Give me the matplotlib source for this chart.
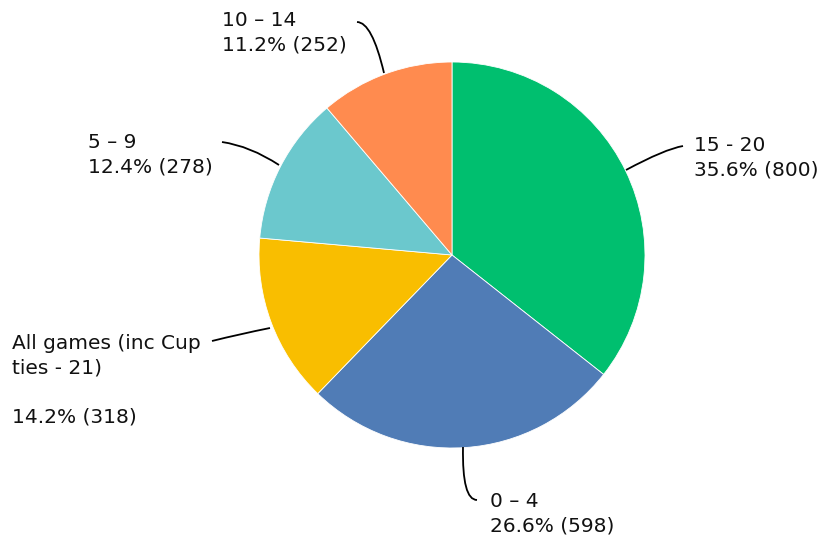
import matplotlib

matplotlib.use("Agg")
import matplotlib.pyplot as plt
from matplotlib.path import Path
from matplotlib.patches import PathPatch

# data
categories = ["15 - 20", "0 \u2013 4", "All games (inc Cup\nties - 21)\n", "5 \u2013 9", "10 \u2013 14"]
counts = [800, 598, 318, 278, 252]
percents = [35.6, 26.6, 14.2, 12.4, 11.2]
colors = ["#00BF6F", "#507CB6", "#F9BE00", "#6BC8CD", "#FF8B4F"]

W, H = 824, 543
CX, CY, R = 452, 255, 193


def fy(py):
    # pixel row -> data y (origin bottom-left)
    return H - py


fig = plt.figure(figsize=(W / 100, H / 100), dpi=100)
ax = fig.add_axes([0, 0, 1, 1])

ax.pie(
    counts,
    colors=colors,
    startangle=90,
    counterclock=False,
    center=(CX, fy(CY)),
    radius=R,
    wedgeprops=dict(edgecolor="white", linewidth=0.6),
)
ax.set_xlim(0, W)
ax.set_ylim(0, H)
ax.set_aspect("equal")
ax.axis("off")

# label block: left x, block centre y (pixels)
label_pos = [(694, 158), (490, 514), (12, 380), (88, 155), (222, 33)]
# leader lines: start on pie, control, end near label (pixels)
leaders = [
    [(626, 170), (665, 149), (683, 146)],
    [(463, 447), (462, 500), (477, 500)],
    [(270, 328), (240, 334), (212, 341)],
    [(279, 165), (250, 146), (222, 142)],
    [(384, 73), (372, 22), (357, 22)],
]

for cat, n, pct, (lx, ly), pts in zip(categories, counts, percents, label_pos, leaders):
    ax.text(
        lx, fy(ly), f"{cat}\n{pct:.1f}% ({n})",
        ha="left", va="center", fontsize=14.5, color="#111111",
        linespacing=1.36,
    )
    verts = [(x, fy(y)) for x, y in pts]
    path = Path(verts, [Path.MOVETO, Path.CURVE3, Path.CURVE3])
    ax.add_patch(PathPatch(path, facecolor="none", edgecolor="black", linewidth=1.3))

fig.savefig("out.png", dpi=100)
